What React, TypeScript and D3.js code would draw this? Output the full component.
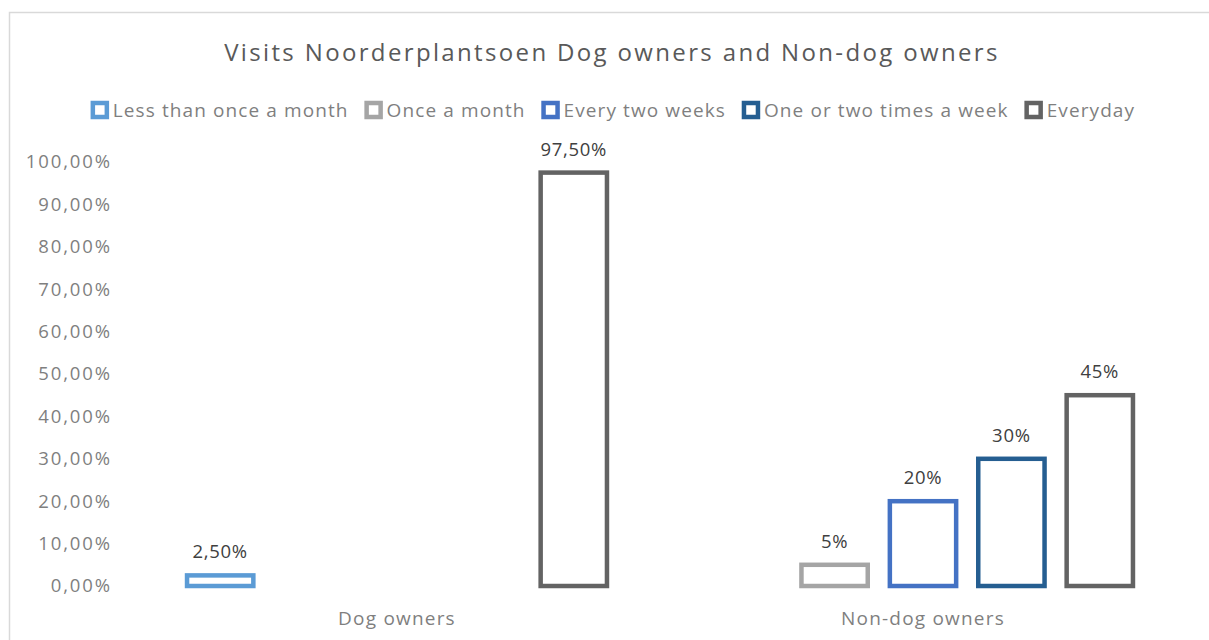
import { useEffect, useRef } from "react";
import * as d3 from "d3";

const categories = ["Dog owners", "Non-dog owners"];
const seriesNames = [
  "Less than once a month",
  "Once a month",
  "Every two weeks",
  "One or two times a week",
  "Everyday",
];
const seriesColors = ["#5b9bd5", "#a5a5a5", "#4472c4", "#255e91", "#636363"];
const dogOwners = [2.5, 0, 0, 0, 97.5];
const nonDogOwners = [0, 5, 20, 30, 45];
const dogLabels = ["2,50%", "", "", "", "97,50%"];
const nonDogLabels = ["", "5%", "20%", "30%", "45%"];
const yTicks = [0, 10, 20, 30, 40, 50, 60, 70, 80, 90, 100];

const FONT = "'Open Sans', sans-serif";

const App = () => {
  const svgRef = useRef<SVGSVGElement>(null);

  useEffect(() => {
    document.body.style.margin = "0";
    const svg = d3.select(svgRef.current);
    svg.selectAll("*").remove();

    // chart frame (runs off the right and bottom edges)
    svg
      .append("rect")
      .attr("x", 9.5)
      .attr("y", 12.5)
      .attr("width", 1260)
      .attr("height", 700)
      .attr("fill", "#fff")
      .attr("stroke", "#d9d9d9")
      .attr("stroke-width", 1.5);

    svg
      .append("text")
      .attr("x", 612)
      .attr("y", 61)
      .attr("text-anchor", "middle")
      .attr("font-family", FONT)
      .attr("font-size", 24)
      .attr("letter-spacing", 2.35)
      .attr("fill", "#595959")
      .text("Visits Noorderplantsoen Dog owners and Non-dog owners");

    // legend, laid out by measured text width
    const legend = svg.append("g");
    let lx = 0;
    seriesNames.forEach((name, i) => {
      const item = legend.append("g").attr("transform", `translate(${lx},0)`);
      item
        .append("rect")
        .attr("x", 2)
        .attr("y", -14)
        .attr("width", 14)
        .attr("height", 14)
        .attr("fill", "#fff")
        .attr("stroke", seriesColors[i])
        .attr("stroke-width", 4.5);
      const t = item
        .append("text")
        .attr("x", 22)
        .attr("y", 0)
        .attr("font-family", FONT)
        .attr("font-size", 19)
        .attr("letter-spacing", 1.1)
        .attr("fill", "#7f7f7f")
        .text(name);
      const w = (t.node() as SVGTextElement).getComputedTextLength();
      lx += 22 + w + 16;
    });
    const legendWidth = lx - 16;
    legend.attr("transform", `translate(${613 - legendWidth / 2},117)`);

    const margin = { left: 134, right: 1186, top: 162, bottom: 586 };

    const y = d3
      .scaleLinear()
      .domain([0, 100])
      .range([margin.bottom, margin.top]);

    const x0 = d3
      .scaleBand()
      .domain(categories)
      .range([margin.left, margin.right])
      .padding(0);

    const x1 = d3
      .scaleBand()
      .domain(seriesNames)
      .range([0, x0.bandwidth()])
      .paddingInner(0.25)
      .paddingOuter(0.6);

    // y axis labels
    svg
      .append("g")
      .selectAll("text")
      .data(yTicks)
      .enter()
      .append("text")
      .attr("x", 112)
      .attr("y", (d) => y(d))
      .attr("dy", "0.35em")
      .attr("text-anchor", "end")
      .attr("font-family", FONT)
      .attr("font-size", 18.5)
      .attr("letter-spacing", 1.9)
      .attr("fill", "#7f7f7f")
      .text((d) => `${d},00%`);

    const rows = [
      { cat: categories[0], values: dogOwners, labels: dogLabels },
      { cat: categories[1], values: nonDogOwners, labels: nonDogLabels },
    ];

    rows.forEach((row) => {
      const g = svg
        .append("g")
        .attr("transform", `translate(${x0(row.cat)},0)`);
      const items = row.values
        .map((v, i) => ({ v, i, label: row.labels[i], name: seriesNames[i] }))
        .filter((d) => d.v > 0);

      g.selectAll(".bar")
        .data(items)
        .enter()
        .append("rect")
        .attr("class", "bar")
        .attr("x", (d) => x1(d.name)!)
        .attr("y", (d) => y(d.v))
        .attr("width", x1.bandwidth())
        .attr("height", (d) => y(0) - y(d.v))
        .attr("fill", "#fff")
        .attr("stroke", (d) => seriesColors[d.i])
        .attr("stroke-width", 4.5);

      g.selectAll(".lbl")
        .data(items)
        .enter()
        .append("text")
        .attr("class", "lbl")
        .attr("x", (d) => x1(d.name)! + x1.bandwidth() / 2)
        .attr("y", (d) => y(d.v) - 17)
        .attr("text-anchor", "middle")
        .attr("font-family", FONT)
        .attr("font-size", 18.5)
        .attr("letter-spacing", 0.7)
        .attr("fill", "#404040")
        .text((d) => d.label);

      svg
        .append("text")
        .attr("x", x0(row.cat)! + x0.bandwidth() / 2)
        .attr("y", 618)
        .attr("dy", "0.35em")
        .attr("text-anchor", "middle")
        .attr("font-family", FONT)
        .attr("font-size", 19)
        .attr("letter-spacing", 1.2)
        .attr("fill", "#7f7f7f")
        .text(row.cat);
    });
  }, []);

  return <svg ref={svgRef} width={1209} height={640} style={{ display: "block" }}></svg>;
};

export default App;
